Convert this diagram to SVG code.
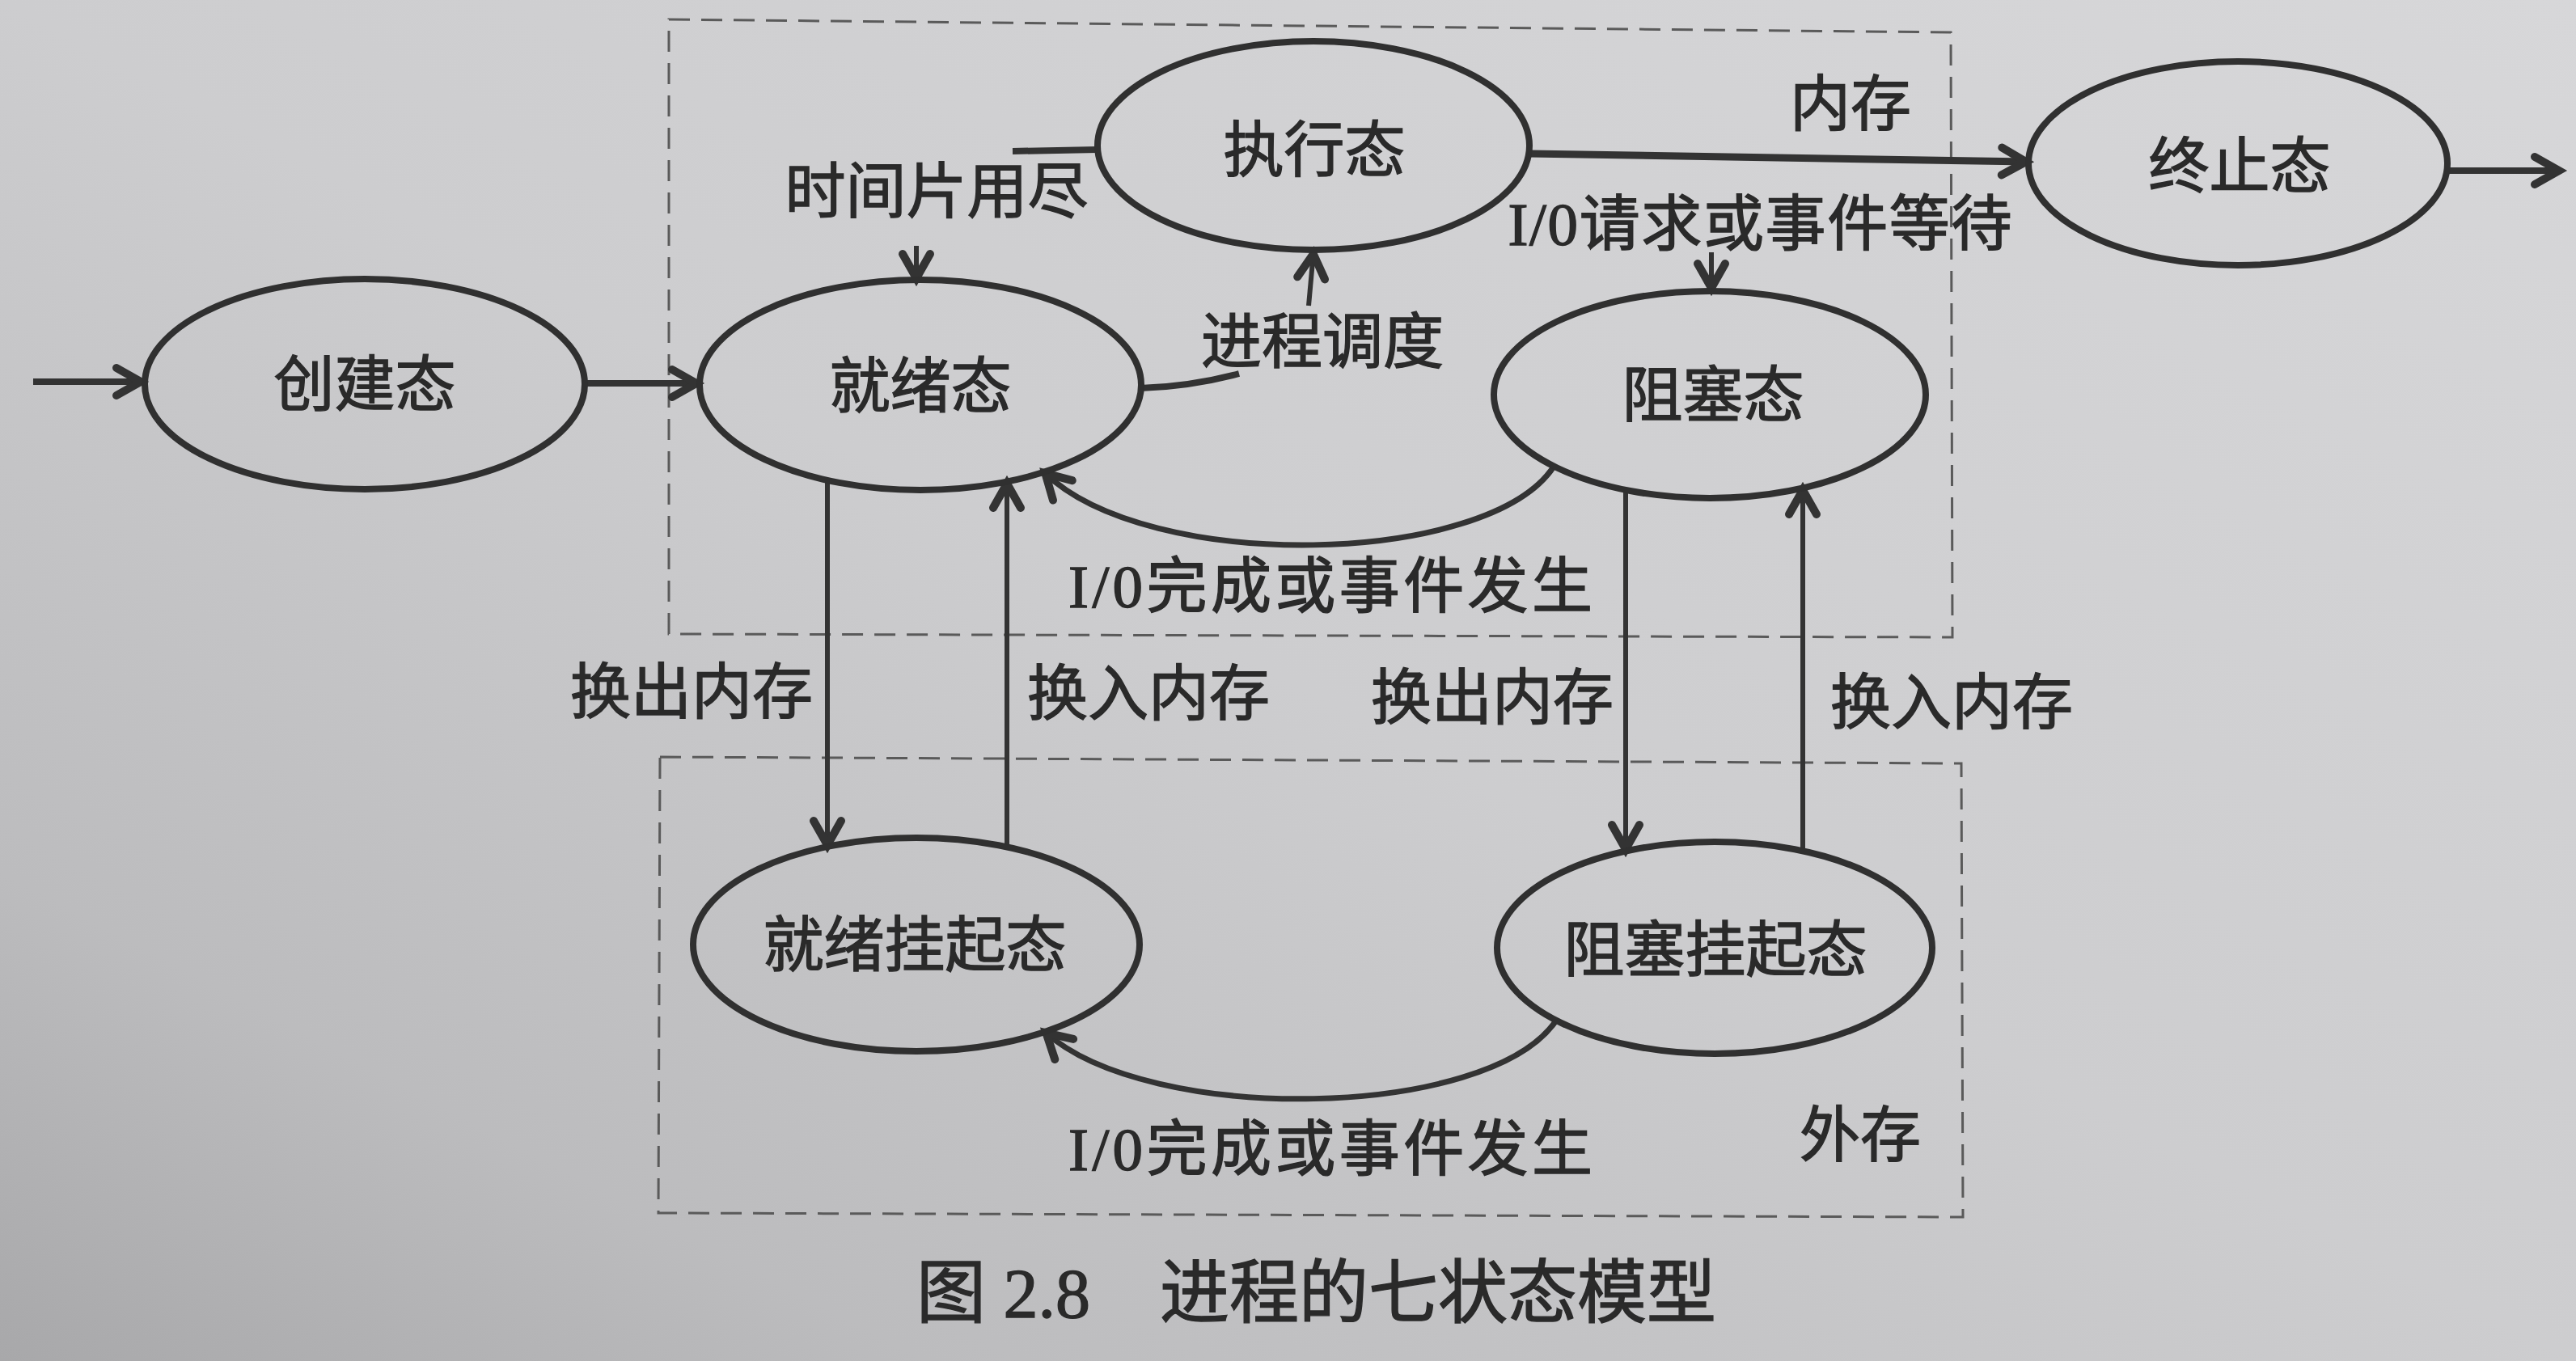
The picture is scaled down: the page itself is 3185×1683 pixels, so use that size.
<svg xmlns="http://www.w3.org/2000/svg" width="3185" height="1683" viewBox="0 0 3185 1683">
  <defs>
    <linearGradient id="paper" x1="1" y1="0" x2="0" y2="1">
      <stop offset="0" stop-color="#d7d7d9"/>
      <stop offset="0.5" stop-color="#cdcdcf"/>
      <stop offset="0.82" stop-color="#bcbcbe"/>
      <stop offset="1" stop-color="#a8a8aa"/>
    </linearGradient>
    <marker id="arrow" markerUnits="userSpaceOnUse" markerWidth="56" markerHeight="56" refX="40" refY="24" orient="auto" viewBox="0 0 56 56">
      <path d="M8,7 L38,24 L8,41" fill="none" stroke="#333" stroke-width="10" stroke-linejoin="miter" stroke-linecap="round"/>
    </marker>
    <style>
      .state { fill: none; stroke: #303030; stroke-width: 8; }
      .link { fill: none; stroke: #333; stroke-width: 6; marker-end: url(#arrow); }
      .plain { fill: none; stroke: #333; stroke-width: 6; }
      .zone { fill: none; stroke: #5a5a5a; stroke-width: 3; stroke-dasharray: 26 14; }
      text { font-family: "Liberation Serif", "Noto Sans CJK SC", serif; fill: #2a2a2a; stroke: #2a2a2a; stroke-width: 1.4; text-anchor: middle; dominant-baseline: central; }
      .name { font-size: 75px; }
      .label { font-size: 75px; }
      .caption { font-size: 86px; text-anchor: start; }
    </style>
  </defs>

  <rect width="3185" height="1683" fill="url(#paper)"/>

  <!-- memory / external storage regions -->
  <g id="regions">
    <path class="zone" d="M827,24 L2412,40 L2414,788 L827,784 Z"/>
    <path class="zone" d="M816,936 L2425,944 L2427,1505 L814,1500 Z"/>
    <text class="label" x="2288" y="129">内存</text>
    <text class="label" x="2300" y="1404">外存</text>
  </g>

  <!-- transitions -->
  <g id="connectors">
    <path class="link" d="M41,472 L176,472" style="stroke-width:8"/>
    <path class="link" d="M723,474 L863,474" style="stroke-width:8"/>
    <path class="plain" d="M1357,185 L1252,187" style="stroke-width:8"/>
    <path class="link" d="M1133,304 L1133,346"/>
    <path class="plain" d="M1410,480 Q1472,478 1532,462" style="stroke-width:8"/>
    <path class="link" d="M1618,378 L1624,312"/>
    <path class="link" d="M1891,190 L2507,200" style="stroke-width:9"/>
    <path class="link" d="M3026,211 L3166,211" style="stroke-width:8"/>
    <path class="link" d="M2116,312 L2116,358"/>
    <path class="link" d="M1921,577 C1840,700 1420,710 1291,584" style="stroke-width:7"/>
    <path class="link" d="M1924,1262 C1840,1385 1420,1392 1292,1276" style="stroke-width:7"/>
    <path class="link" d="M1023,594 L1023,1047"/>
    <path class="link" d="M1245,1047 L1245,596"/>
    <path class="link" d="M2010,606 L2010,1052"/>
    <path class="link" d="M2229,1052 L2229,604"/>

    <text class="label" x="1158" y="237">时间片用尽</text>
    <text class="label" x="1635" y="423">进程调度</text>
    <text class="label" x="2176" y="277" textLength="623" lengthAdjust="spacing">I/0请求或事件等待</text>
    <text class="label" x="1645" y="725" textLength="648" lengthAdjust="spacing">I/0完成或事件发生</text>
    <text class="label" x="1645" y="1421" textLength="648" lengthAdjust="spacing">I/0完成或事件发生</text>
    <text class="label" x="855" y="856">换出内存</text>
    <text class="label" x="1420" y="858">换入内存</text>
    <text class="label" x="1845" y="863">换出内存</text>
    <text class="label" x="2413" y="869">换入内存</text>
  </g>

  <!-- states -->
  <g id="state-new">
    <ellipse class="state" cx="451" cy="475" rx="272" ry="130"/>
    <text class="name" x="451" y="476">创建态</text>
  </g>
  <g id="state-ready">
    <ellipse class="state" cx="1138" cy="476" rx="273" ry="130"/>
    <text class="name" x="1138" y="478">就绪态</text>
  </g>
  <g id="state-running">
    <ellipse class="state" cx="1624" cy="180" rx="267" ry="129"/>
    <text class="name" x="1625" y="186">执行态</text>
  </g>
  <g id="state-blocked">
    <ellipse class="state" cx="2114" cy="488" rx="267" ry="128"/>
    <text class="name" x="2118" y="489">阻塞态</text>
  </g>
  <g id="state-exit">
    <ellipse class="state" cx="2767" cy="202" rx="259" ry="126"/>
    <text class="name" x="2769" y="206">终止态</text>
  </g>
  <g id="state-ready-suspend">
    <ellipse class="state" cx="1133" cy="1168" rx="276" ry="132"/>
    <text class="name" x="1131" y="1169">就绪挂起态</text>
  </g>
  <g id="state-blocked-suspend">
    <ellipse class="state" cx="2120" cy="1172" rx="269" ry="131"/>
    <text class="name" x="2121" y="1175">阻塞挂起态</text>
  </g>

  <!-- figure caption -->
  <g id="caption">
    <text class="caption" x="1133" y="1600">图 2.8</text>
    <text class="caption" x="1434" y="1600">进程的七状态模型</text>
  </g>
</svg>
